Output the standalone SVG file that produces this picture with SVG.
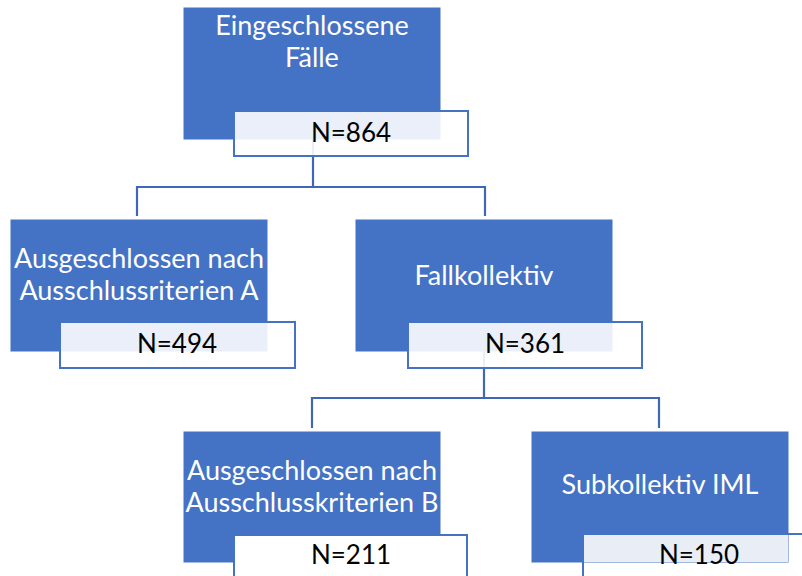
<svg xmlns="http://www.w3.org/2000/svg" width="802" height="576" viewBox="0 0 802 576">
<style>
.box{fill:#4472C4;stroke:#4472C4;stroke-width:1}
.nbox{fill:#ffffff;fill-opacity:0.89;stroke:#4472C4;stroke-width:2}
.nwhite{fill:#ffffff;stroke:#4472C4;stroke-width:2}
.over{fill:#E9EDF6}
.t{font-family:Lato,"Liberation Sans",sans-serif;font-size:27px;fill:#ffffff;text-anchor:middle}
.n{font-family:Lato,"Liberation Sans",sans-serif;font-size:26px;fill:#000000;text-anchor:middle}
.c{fill:none;stroke:#3F67B5;stroke-width:2.2}
</style>
<rect width="802" height="576" fill="#ffffff"/>
<g id="connectors">
<path class="c" d="M313 139 V187 M137 216 V187 H485 V216"/>
<path class="c" d="M484 351 V398 M312 428 V398 H659 V428"/>
</g>
<g id="node-eingeschlossen">
<rect class="box" x="184" y="8" width="256" height="131"/>
<text class="t" x="312" y="35">Eingeschlossene</text>
<text class="t" x="312" y="67">Fälle</text>
<rect class="nbox" x="234" y="111" width="234" height="45"/>
<text class="n" x="351" y="142">N=864</text>
</g>
<g id="node-ausgeschlossen-a">
<rect class="box" x="11" y="220" width="256" height="131"/>
<text class="t" x="139" y="268">Ausgeschlossen nach</text>
<text class="t" x="139" y="300">Ausschlussriterien A</text>
<rect class="nbox" x="60" y="322" width="235" height="46"/>
<text class="n" x="177" y="353">N=494</text>
</g>
<g id="node-fallkollektiv">
<rect class="box" x="356" y="220" width="256" height="131"/>
<text class="t" x="484" y="285">Fallkollektiv</text>
<rect class="nbox" x="408" y="322" width="234" height="46"/>
<text class="n" x="525" y="353">N=361</text>
</g>
<g id="node-ausgeschlossen-b">
<rect class="box" x="184" y="432" width="256" height="130"/>
<text class="t" x="312" y="480">Ausgeschlossen nach</text>
<text class="t" x="312" y="512">Ausschlusskriterien B</text>
<rect class="nwhite" x="234" y="535" width="233" height="46"/>
<text class="n" x="351" y="564">N=211</text>
</g>
<g id="node-subkollektiv">
<rect class="nwhite" x="583" y="534" width="234" height="46"/>
<rect class="box" x="532" y="432" width="256" height="130"/>
<rect class="over" x="584" y="535" width="204" height="27"/>
<text class="t" x="660" y="494">Subkollektiv IML</text>
<text class="n" x="699" y="564">N=150</text>
</g>
</svg>
